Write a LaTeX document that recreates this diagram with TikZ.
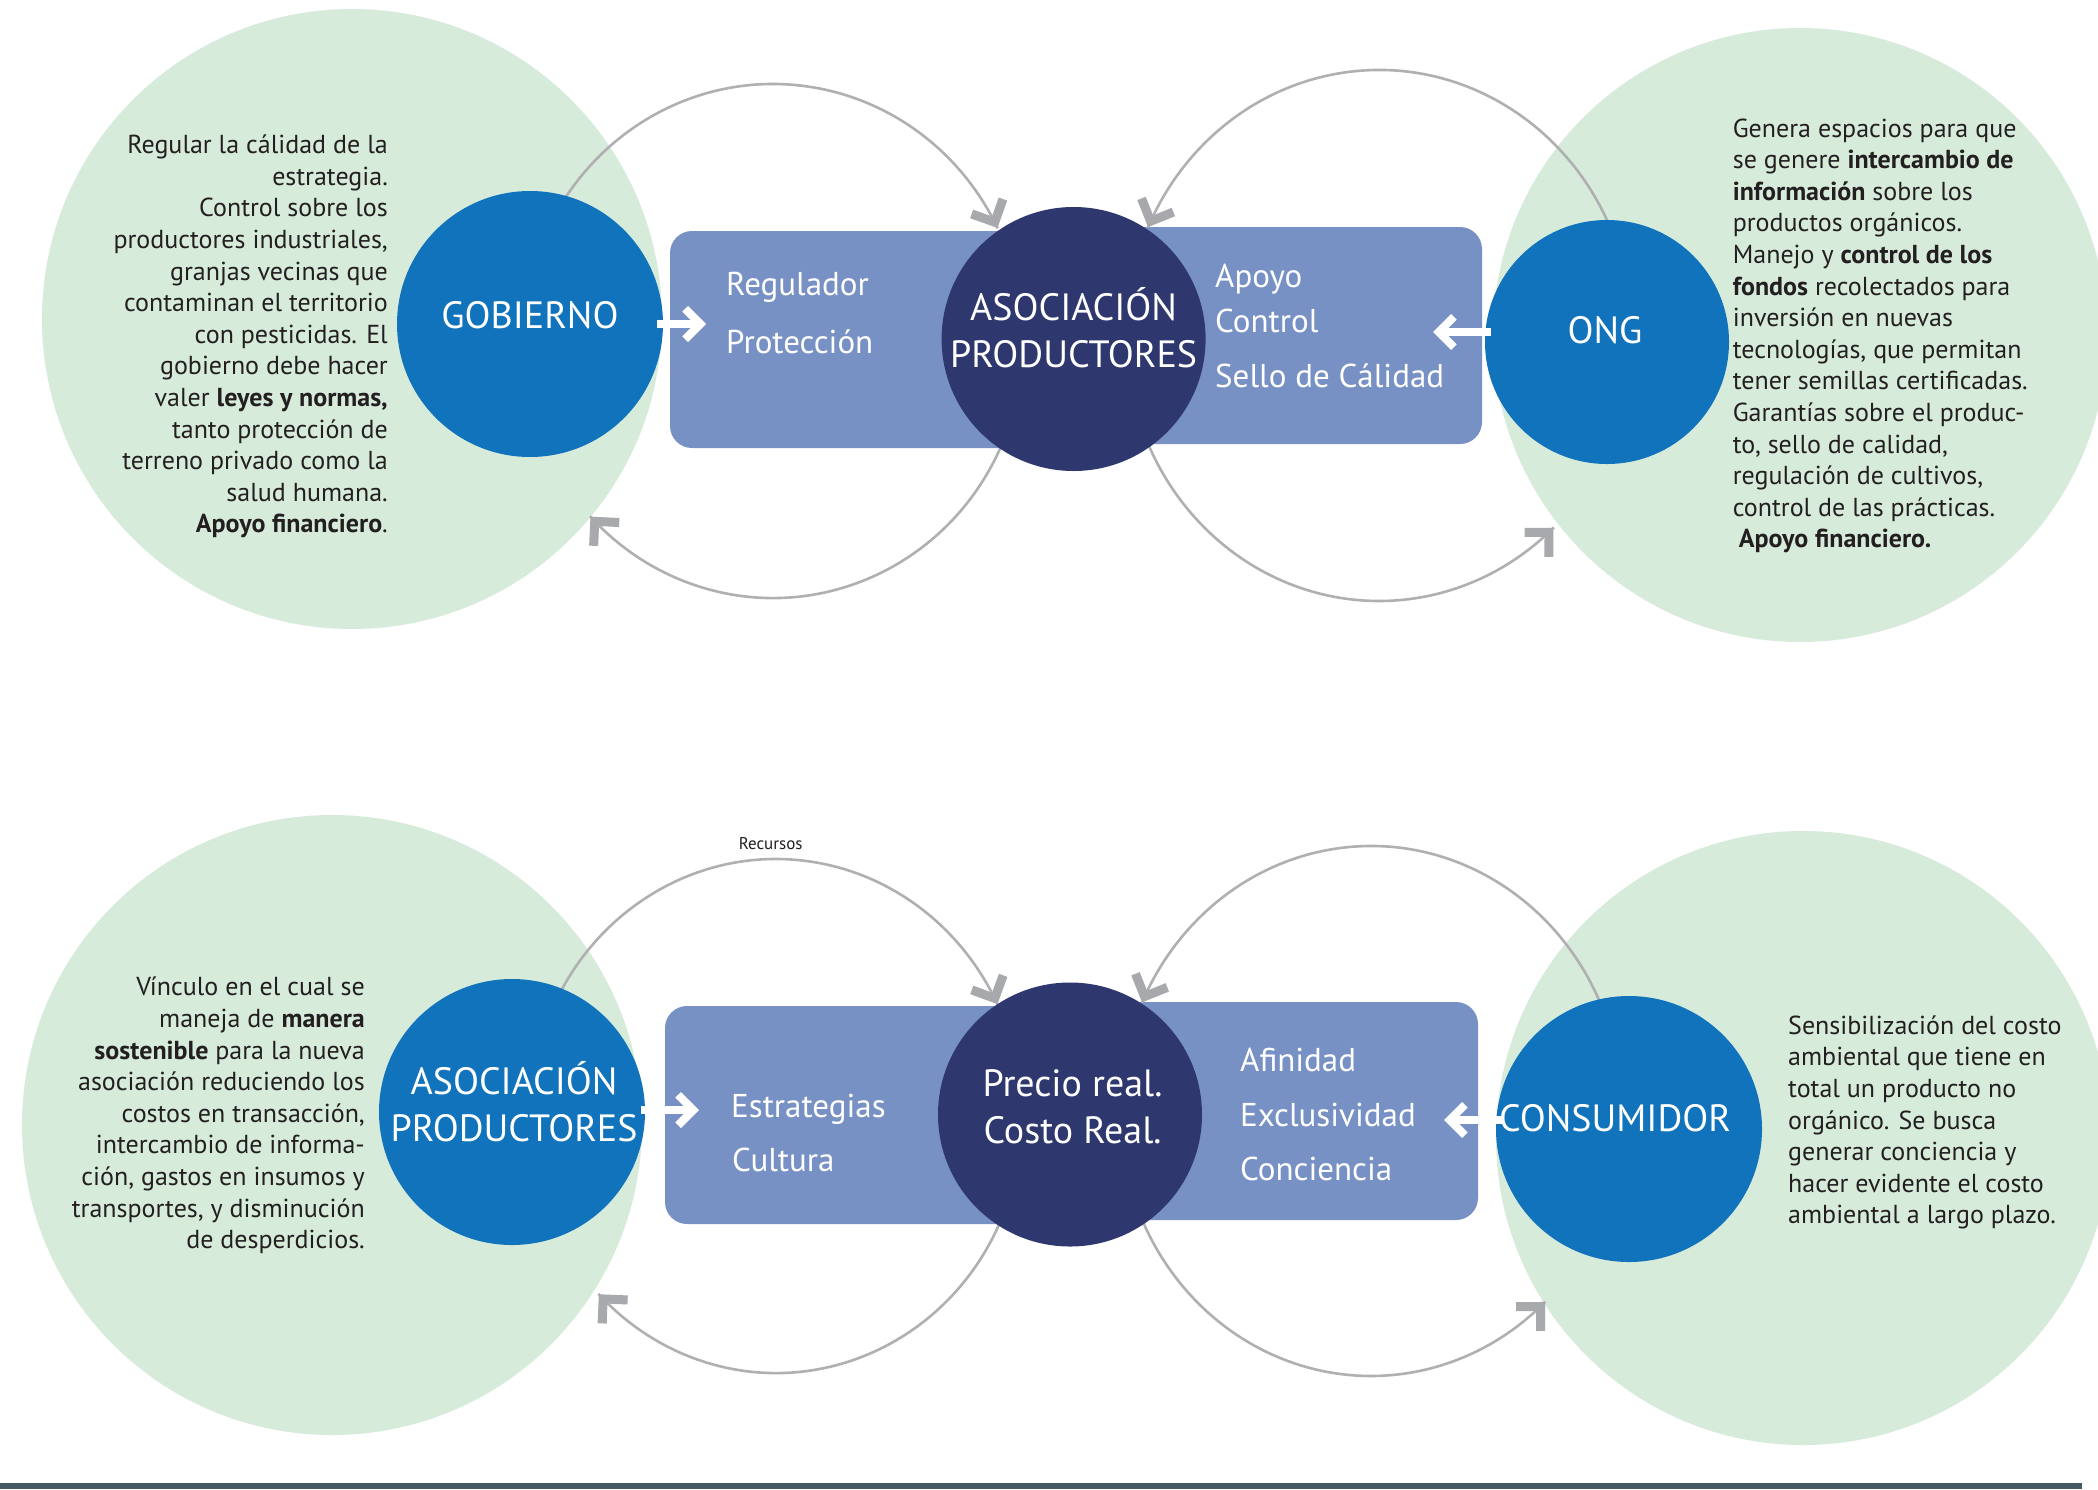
\documentclass[tikz,border=0pt]{standalone}
\usepackage{fontspec}
\setmainfont{PT Sans}
\usetikzlibrary{calc,decorations.markings}
\definecolor{mint}{HTML}{D7EBDB}
\definecolor{bluec}{HTML}{1173BB}
\definecolor{navy}{HTML}{2E386E}
\definecolor{boxc}{HTML}{7891C5}
\definecolor{arcg}{HTML}{B0B0B2}
\definecolor{tipg}{HTML}{A7A9AC}
\definecolor{barc}{HTML}{455A64}
\definecolor{txt}{HTML}{231F20}
\tikzset{
  greenbg/.style={circle, fill=mint, inner sep=0pt, minimum size=#1},
  bluebg/.style={circle, fill=bluec, inner sep=0pt, minimum size=#1},
  navybg/.style={circle, fill=navy, inner sep=0pt, minimum size=#1},
  boxbg/.style={rectangle, rounded corners=22pt, fill=boxc, inner sep=0pt},
  cycarc/.style={draw=arcg, line width=2.6pt, postaction={decorate},
    decoration={markings, mark=at position -0.5pt with {
      \fill[tipg] (0pt,0pt) -- (-20.5pt,-20.5pt) -- (-26.9pt,-14.1pt) -- (-12.7pt,0pt)
        -- (-26.9pt,14.1pt) -- (-20.5pt,20.5pt) -- cycle;}}},
  wshaft/.style={draw=white, line width=8pt, line cap=butt},
  desc/.style={font=\fontsize{26}{31.6}\selectfont, text=txt, inner sep=0pt},
  ttl/.style={font=\fontsize{38}{47}\selectfont, text=white, inner sep=0pt},
  lbl/.style={font=\fontsize{33}{40}\selectfont, text=white, inner sep=0pt, anchor=base west},
}
\newcommand{\wchevR}[1]{\fill[white] (#1) -- ($(#1)+(-18,-18)$) -- ($(#1)+(-23.7,-12.4)$) -- ($(#1)+(-11.3,0)$) -- ($(#1)+(-23.7,12.4)$) -- ($(#1)+(-18,18)$) -- cycle;}
\newcommand{\wchevL}[1]{\fill[white] (#1) -- ($(#1)+(18,-18)$) -- ($(#1)+(23.7,-12.4)$) -- ($(#1)+(11.3,0)$) -- ($(#1)+(23.7,12.4)$) -- ($(#1)+(18,18)$) -- cycle;}
\begin{document}
\begin{tikzpicture}[x=1pt,y=-1pt]
\useasboundingbox (0,0) rectangle (2098,1489);
\fill[white] (0,0) rectangle (2098,1489);

% light green background circles
\node[greenbg=620pt] (g1) at (352,319) {};
\node[greenbg=614pt] (g2) at (1800,335) {};
\node[greenbg=620pt] (g3) at (332,1125) {};
\node[greenbg=614pt] (g4) at (1803,1138) {};

% boxes
\node[boxbg, minimum width=403pt, minimum height=217pt] (b1) at (871.5,339.5) {};
\node[boxbg, minimum width=409pt, minimum height=217pt] (b2) at (1277.5,335.5) {};
\node[boxbg, minimum width=405pt, minimum height=218pt] (b3) at (867.5,1115) {};
\node[boxbg, minimum width=408pt, minimum height=218pt] (b4) at (1274,1111) {};

% cycle arcs
\draw[cycarc] (526.8,296.4) arc[start angle=190, end angle=334, x radius=250, y radius=257];
\draw[cycarc] (1007.9,428.9) arc[start angle=20, end angle=137, x radius=250, y radius=257];
\draw[cycarc] (1628.2,289.4) arc[start angle=350, end angle=204, x radius=253, y radius=265.5];
\draw[cycarc] (1141.3,426.3) arc[start angle=160, end angle=46.3, x radius=253, y radius=265.5];
\draw[cycarc] (533.7,1071.4) arc[start angle=190, end angle=334.3, x radius=246, y radius=257];
\draw[cycarc] (1007.2,1203.9) arc[start angle=20, end angle=136.2, x radius=246, y radius=257];
\draw[cycarc] (1618.2,1065) arc[start angle=350, end angle=204.1, x radius=251, y radius=265];
\draw[cycarc] (1135.1,1201.6) arc[start angle=160, end angle=46, x radius=251, y radius=265];

% actor circles
\node[bluebg=266pt] (gob) at (530,324) {};
\node[bluebg=244pt] (ong) at (1607,342) {};
\node[bluebg=266pt] (asoc2) at (512,1112) {};
\node[bluebg=266pt] (cons) at (1629,1129) {};
\node[navybg=264pt] (asoc1) at (1073.6,339) {};
\node[navybg=264pt] (precio) at (1070,1114.5) {};

% white arrows
\coordinate (wt1) at (706,324);
\draw[wshaft] ($(gob.east)+(-6,0)$) -- ($(wt1)+(-10,0)$);
\wchevR{wt1}
\coordinate (wt2) at (1433,332);
\draw[wshaft] ($(ong.west |- wt2)+(6,0)$) -- ($(wt2)+(10,0)$);
\wchevL{wt2}
\coordinate (wt3) at (699,1110);
\draw[wshaft] ($(asoc2.east |- wt3)+(-4,0)$) -- ($(wt3)+(-10,0)$);
\wchevR{wt3}
\coordinate (wt4) at (1444,1120);
\draw[wshaft] ($(cons.west |- wt4)+(6,0)$) -- ($(wt4)+(10,0)$);
\wchevL{wt4}

% titles
\node[ttl, anchor=base] (tgob) at (530,328.4) {GOBIERNO};
\node[ttl, anchor=base] (tong) at (1605,343) {ONG};
\node[ttl, anchor=base] (tcons) at (1615,1131.7) {CONSUMIDOR};
\node[ttl, align=center, anchor=north] (tasoc1) at (1073.6,284) {\rule{0pt}{36pt}ASOCIACIÓN\\PRODUCTORES};
\node[ttl, align=center, anchor=north] (tasoc2) at (514,1057.8) {\rule{0pt}{36pt}ASOCIACIÓN\\PRODUCTORES};
\node[ttl, align=center, anchor=north] (tprecio) at (1072.5,1060) {\rule{0pt}{36pt}Precio real.\\Costo Real.};

% box labels
\node[lbl] (l1) at (726,295) {Regulador};
\node[lbl] (l2) at (726,353) {Protección};
\node[lbl] (l3) at (1215,287) {Apoyo};
\node[lbl] (l4) at (1215,332) {Control};
\node[lbl] (l5) at (1215,387) {Sello de Cálidad};
\node[lbl] (l6) at (731,1117) {Estrategias};
\node[lbl] (l7) at (732,1171) {Cultura};
\node[lbl] (l8) at (1240,1071.7) {Afinidad};
\node[lbl] (l9) at (1240,1126.4) {Exclusividad};
\node[lbl] (l10) at (1240,1180.8) {Conciencia};
\node[font=\fontsize{17}{20}\selectfont, text=txt, inner sep=0pt, anchor=base] (lrec) at (770.7,849) {Recursos};

% descriptions
\node[desc, align=right, anchor=north east] (d1) at (388,129.4) {\rule{0pt}{24pt}Regular la cálidad de la\\
estrategia.\\
Control sobre los\\
productores industriales,\\
granjas vecinas que\\
contaminan el territorio\\
con pesticidas. El\\
gobierno debe hacer\\
valer \textbf{leyes y normas,}\\
tanto protección de\\
terreno privado como la\\
salud humana.\\
\textbf{Apoyo financiero}.};

\node[desc, align=left, anchor=north west] (d2) at (1732.6,112.8) {\rule{0pt}{24pt}Genera espacios para que\\
se genere \textbf{intercambio de}\\
\textbf{información} sobre los\\
productos orgánicos.\\
Manejo y \textbf{control de los}\\
\textbf{fondos} recolectados para\\
inversión en nuevas\\
tecnologías, que permitan\\
tener semillas certificadas.\\
Garantías sobre el produc-\\
to, sello de calidad,\\
regulación de cultivos,\\
control de las prácticas.\\
\hspace*{6pt}\textbf{Apoyo financiero.}};

\node[desc, align=right, anchor=north east] (d3) at (365,971.6) {\rule{0pt}{24pt}Vínculo en el cual se\\
maneja de \textbf{manera}\\
\textbf{sostenible} para la nueva\\
asociación reduciendo los\\
costos en transacción,\\
intercambio de informa-\\
ción, gastos en insumos y\\
transportes, y disminución\\
de desperdicios.};

\node[desc, align=left, anchor=north west] (d4) at (1788,1010) {\rule{0pt}{24pt}Sensibilización del costo\\
ambiental que tiene en\\
total un producto no\\
orgánico. Se busca\\
generar conciencia y\\
hacer evidente el costo\\
ambiental a largo plazo.};

% bottom bar
\fill[barc] (0,1483) rectangle (2082,1489);
\end{tikzpicture}
\end{document}
